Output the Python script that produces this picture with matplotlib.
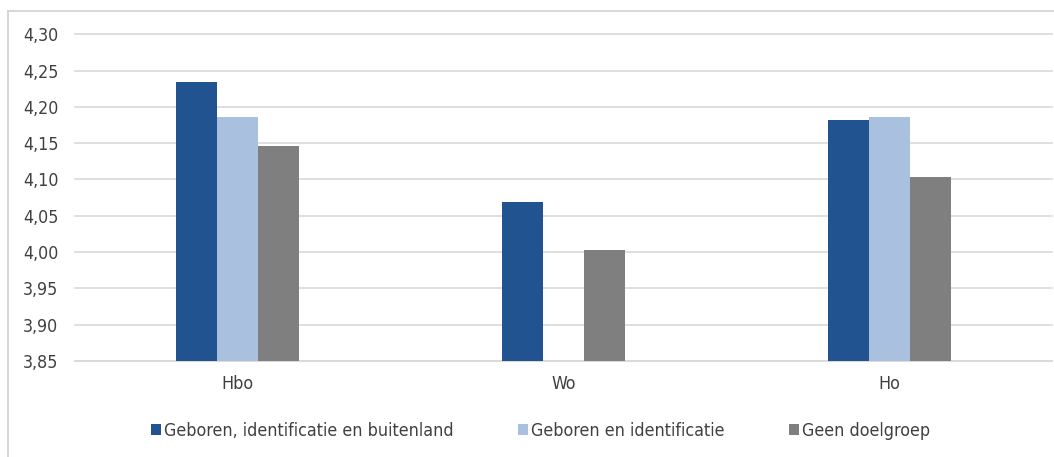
import numpy as np
import matplotlib.pyplot as plt
from matplotlib.lines import Line2D
from matplotlib.ticker import FuncFormatter

categories = ['Hbo', 'Wo', 'Ho']
series_names = ['Geboren, identificatie en buitenland',
                'Geboren en identificatie',
                'Geen doelgroep']
born_id_abroad = [4.234, 4.069, 4.182]
born_id = [4.186, np.nan, 4.186]
no_target = [4.146, 4.003, 4.103]
yticks = [3.85, 3.90, 3.95, 4.00, 4.05, 4.10, 4.15, 4.20, 4.25, 4.30]

colors = ['#215391', '#A9C1DF', '#7F7F7F']
text_color = '#404040'
grid_color = '#D9D9D9'

plt.rcParams['font.family'] = ['DejaVu Sans']
plt.rcParams['font.stretch'] = 'condensed'

fig = plt.figure(figsize=(10.54, 4.57), dpi=100)
ax = fig.add_axes([0.0712, 0.210, 0.9268, 0.715])

x = np.arange(len(categories))
w = 0.126
for i, (vals, name) in enumerate(zip([born_id_abroad, born_id, no_target], series_names)):
    vals = np.array(vals, dtype=float)
    heights = vals - yticks[0]
    ax.bar(x + (i - 1) * w, heights, w, bottom=yticks[0], color=colors[i],
           label=name, zorder=3)

ax.set_xlim(-0.5, 2.5)
ax.set_ylim(yticks[0], yticks[-1])
ax.set_yticks(yticks)
ax.yaxis.set_major_formatter(FuncFormatter(lambda v, p: f'{v:.2f}'.replace('.', ',')))
ax.set_xticks(x)
ax.set_xticklabels(categories)
ax.tick_params(axis='y', length=0, pad=12, labelsize=12.8, labelcolor=text_color)
ax.tick_params(axis='x', length=0, pad=10, labelsize=12.8, labelcolor=text_color)
ax.grid(axis='y', color=grid_color, linewidth=1.2, zorder=0)
for gl in ax.get_ygridlines():
    gl.set_clip_on(False)
for s in ['top', 'right', 'left']:
    ax.spines[s].set_visible(False)
ax.spines['bottom'].set_color(grid_color)
ax.spines['bottom'].set_linewidth(1.2)

leg = fig.legend(loc='center', bbox_to_anchor=(0.513, 0.057), ncol=3, frameon=False,
                 fontsize=12.8, handlelength=0.55, handleheight=0.55, handletextpad=0.2,
                 columnspacing=3.6)
for t in leg.get_texts():
    t.set_color(text_color)

# outer chart frame
bx, by = 8 / 1054, 1 - 11 / 457
fig.add_artist(Line2D([bx, bx], [0, by], transform=fig.transFigure, color='#D0D0D0', lw=1.2))
fig.add_artist(Line2D([bx, 1], [by, by], transform=fig.transFigure, color='#D0D0D0', lw=1.2))

fig.savefig('out.png', dpi=100)
